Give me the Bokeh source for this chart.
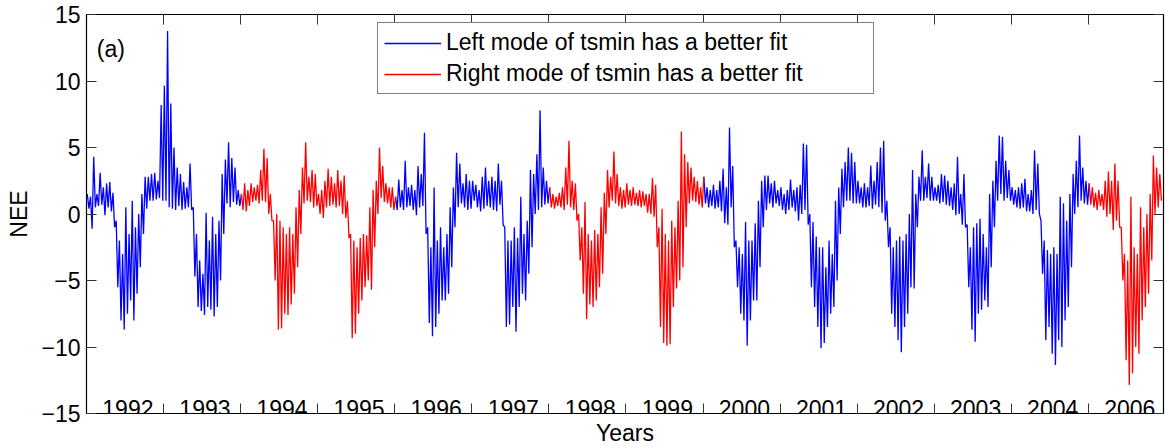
from bokeh.plotting import figure
from bokeh.models import FixedTicker, LinearAxis, Legend, LegendItem, Range1d
from bokeh.core.properties import value
from bokeh.embed import file_html
from bokeh.resources import INLINE

# Station years on the time axis (2005 is absent from the record)
years = [1992, 1993, 1994, 1995, 1996, 1997, 1998, 1999, 2000, 2001, 2002, 2003, 2004, 2006]
# Which mode of tsmin fits better in each year
better_mode = ["left", "left", "right", "right", "left", "left", "right", "right",
               "left", "left", "left", "left", "left", "right"]

# NEE extremes per half-month window (upper / lower), 24 windows a year
nee_hi_1992 = [1.5, 1.3, 4.3, 1.5, 3.1, 2.0, 2.3, 2.4, 1.6, -0.5, -2.0, -3.0, 0.5, -1.5, 1.0, -1.0, 0.0, 1.5, 2.8, 2.8, 3.0, 3.1, 2.5, 8.2]
nee_lo_1992 = [0.4, -1.1, 0.5, 0.6, 0.7, -0.1, 0.5, 0.2, -1.0, -5.5, -8.0, -8.7, -7.5, -6.5, -8.0, -6.0, -4.0, -1.5, 0.4, 1.0, 1.0, 1.1, 1.2, 1.0]
nee_hi_1993 = [9.65, 13.76, 8.3, 5.0, 3.5, 3.0, 2.4, 2.0, 3.8, 0.5, -1.5, -3.5, -4.5, 0.1, -2.0, -0.2, -1.5, -0.5, 3.0, 4.1, 5.4, 4.2, 3.5, 1.8]
nee_lo_1993 = [1.0, 0.5, 0.4, 0.3, 0.6, 0.3, 0.4, 0.5, 0.3, -4.7, -7.0, -7.3, -7.6, -7.0, -7.2, -7.7, -7.0, -5.0, -1.5, 0.8, 0.5, 0.9, 0.7, 0.6]
nee_hi_1994 = [1.5, 2.3, 1.8, 2.3, 2.0, 2.2, 3.3, 4.9, 4.2, 1.5, -0.5, 0.0, -0.5, -1.0, -1.5, -1.0, -1.5, 0.5, 1.8, 3.5, 5.4, 2.8, 3.3, 3.0]
nee_lo_1994 = [0.3, 0.2, 0.6, 0.9, 1.0, 0.8, 1.0, 0.9, 0.0, -0.5, -5.0, -8.7, -8.6, -7.5, -7.6, -6.8, -6.0, -4.0, -1.5, 0.8, 1.0, 0.9, 0.5, 0.6]
nee_hi_1995 = [1.5, 1.8, 2.5, 3.4, 2.8, 2.3, 3.3, 2.5, 2.9, 1.0, -1.5, -2.0, -2.5, -1.8, -1.5, -1.6, 0.5, 1.8, 2.5, 5.0, 3.6, 2.3, 2.0, 2.0]
nee_lo_1995 = [0.0, -0.3, 0.5, 0.6, 0.7, 0.5, 0.6, 0.0, -0.3, -1.8, -9.35, -9.0, -7.5, -6.5, -5.5, -5.0, -5.7, -2.5, 0.0, 1.2, 0.9, 0.8, 0.5, 0.3]
nee_hi_1996 = [1.3, 2.6, 1.8, 4.0, 2.0, 2.2, 1.8, 3.6, 3.0, 6.1, -1.0, -2.5, 2.0, -2.0, -1.0, -2.5, -1.5, 0.5, 2.0, 4.6, 3.8, 2.3, 3.0, 2.5]
nee_lo_1996 = [0.3, 0.5, 0.3, 0.5, 0.6, 0.3, -0.1, 0.5, 0.6, -1.5, -8.2, -9.2, -8.5, -7.5, -6.5, -6.5, -6.0, -4.0, -1.0, 0.5, 0.8, 0.5, 0.3, 0.4]
nee_hi_1997 = [2.5, 2.2, 1.8, 2.8, 3.5, 2.5, 2.8, 2.5, 3.8, 2.5, -1.0, -2.0, -2.0, -1.0, -1.8, 1.3, -1.5, -0.5, 3.3, 3.0, 4.5, 7.8, 3.5, 2.5]
nee_lo_1997 = [1.0, 0.5, 0.2, 0.4, 0.6, 0.5, 0.3, 0.2, 0.7, -0.8, -8.5, -8.3, -7.0, -8.85, -7.0, -6.0, -6.5, -4.5, -2.5, 0.0, 0.3, 0.5, 0.7, 0.8]
nee_hi_1998 = [2.0, 1.5, 1.3, 1.6, 2.0, 3.5, 5.5, 2.5, 2.3, 0.0, -1.0, 0.9, -1.5, -2.0, -1.2, -1.5, 0.5, 1.6, 3.3, 2.8, 4.7, 3.0, 2.0, 1.8]
nee_lo_1998 = [0.5, 0.4, 0.6, 0.5, 0.3, 0.7, 0.5, 0.3, -0.5, -3.5, -6.0, -7.9, -6.8, -7.0, -6.5, -5.5, -4.5, -1.5, 0.5, 1.0, 0.8, 0.6, 0.4, 0.5]
nee_hi_1999 = [2.3, 1.8, 2.0, 1.6, 1.8, 1.7, 1.5, 1.5, 2.7, 2.2, -1.0, 0.4, -1.5, -2.0, -0.5, -1.0, 1.0, 6.2, 4.5, 3.9, 3.5, 2.8, 2.5, 2.0]
nee_lo_1999 = [0.7, 0.6, 0.7, 0.6, 0.5, 0.6, 0.1, 0.0, -0.2, -2.5, -8.5, -9.7, -9.9, -9.8, -7.0, -5.6, -5.0, -4.0, -1.0, 0.8, 1.0, 0.9, 0.7, 0.5]
nee_hi_2000 = [2.8, 2.0, 1.8, 2.2, 1.8, 2.5, 3.4, 2.0, 6.5, 3.6, -2.0, -2.5, -3.0, -0.6, -2.0, -2.0, -0.7, 1.0, 2.5, 2.9, 2.9, 2.3, 2.5, 1.8]
nee_lo_2000 = [0.8, 0.5, 0.6, 0.4, 0.5, 0.2, -0.7, -0.8, 0.5, -2.5, -5.5, -7.5, -8.0, -9.9, -8.0, -6.5, -6.5, -4.0, -1.0, 0.3, 0.8, 0.5, 0.8, 0.6]
nee_hi_2001 = [2.0, 1.5, 1.8, 2.6, 1.8, 2.0, 2.2, 5.3, 5.2, 0.0, -0.6, -1.7, -2.5, -2.5, -4.0, -2.0, -3.0, 1.0, 2.0, 3.4, 3.9, 5.0, 4.6, 3.9]
nee_lo_2001 = [0.3, 0.0, 0.3, 0.5, 0.2, -0.5, 0.0, 0.3, -0.8, -5.5, -7.0, -8.5, -10.1, -9.7, -8.5, -7.5, -7.0, -5.0, -1.5, 0.5, 1.0, 1.0, 0.8, 0.8]
nee_hi_2002 = [2.5, 2.0, 2.3, 2.0, 3.65, 2.5, 3.9, 5.0, 5.5, 1.0, -1.0, -2.5, -2.0, -1.7, -2.0, -1.5, 0.0, 3.3, 1.5, 2.8, 4.8, 2.8, 3.8, 2.8]
nee_lo_2002 = [0.8, 0.5, 0.5, 0.6, 0.4, 0.7, 0.5, 0.1, -0.5, -2.5, -7.5, -8.5, -9.5, -10.4, -8.5, -7.5, -5.5, -5.6, -1.0, 1.0, 1.0, 1.2, 1.0, 1.0]
nee_hi_2003 = [2.0, 2.2, 3.0, 2.9, 2.5, 2.0, 2.3, 4.3, 1.5, 3.0, -0.8, -2.5, -1.0, -0.7, -0.35, -1.5, -2.5, 1.5, 2.5, 4.0, 5.9, 5.8, 4.0, 3.3]
nee_lo_2003 = [1.0, 0.8, 0.9, 0.7, 0.6, 0.3, -0.1, 0.0, -0.8, -1.0, -5.5, -8.7, -9.6, -7.5, -7.2, -6.5, -7.0, -4.0, -1.0, 1.0, 1.5, 1.0, 1.2, 1.0]
nee_hi_2004 = [2.0, 1.8, 2.0, 2.3, 2.65, 1.5, 1.8, 4.8, 3.8, -0.5, -2.0, -2.7, -3.0, -2.5, -3.0, 1.3, 0.8, -0.5, 1.5, 3.0, 4.0, 5.9, 3.5, 2.5]
nee_lo_2004 = [0.7, 0.5, 0.4, 0.5, 0.2, 0.2, 0.0, 0.3, 0.0, -4.5, -9.5, -8.5, -10.5, -11.35, -9.5, -10.0, -8.0, -7.0, -4.0, 0.0, 0.5, 1.0, 0.8, 0.7]
nee_hi_2006 = [2.3, 2.0, 1.6, 1.8, 1.5, 2.5, 3.2, 2.5, 3.8, 2.5, -1.0, -3.0, -3.5, 1.3, -2.5, -3.0, 0.5, -1.0, 0.0, 1.5, 4.4, 3.5, 3.0]
nee_lo_2006 = [0.7, 0.5, 0.3, 0.6, 0.3, -0.2, 0.0, -1.2, -0.5, -1.0, -5.0, -11.0, -12.85, -12.0, -10.0, -10.5, -8.0, -7.0, -6.0, -3.5, 0.0, 0.5, 1.0]

nee_hi = [nee_hi_1992, nee_hi_1993, nee_hi_1994, nee_hi_1995, nee_hi_1996, nee_hi_1997, nee_hi_1998,
          nee_hi_1999, nee_hi_2000, nee_hi_2001, nee_hi_2002, nee_hi_2003, nee_hi_2004, nee_hi_2006]
nee_lo = [nee_lo_1992, nee_lo_1993, nee_lo_1994, nee_lo_1995, nee_lo_1996, nee_lo_1997, nee_lo_1998,
          nee_lo_1999, nee_lo_2000, nee_lo_2001, nee_lo_2002, nee_lo_2003, nee_lo_2004, nee_lo_2006]

DAYS = 365
WINDOW = DAYS / 24.0
FONT = "Liberation Sans"
COLORS = {"left": "#0000ff", "right": "#ff0000"}

# Day-indexed trace for each year, swinging between the upper and lower
# extreme of every window
year_pts = []
for k, (hi, lo) in enumerate(zip(nee_hi, nee_lo)):
    xs, ys = [], []
    for i, (h, l) in enumerate(zip(hi, lo)):
        t0 = k * DAYS + i * WINDOW
        xs += [t0 + 0.25 * WINDOW, t0 + 0.75 * WINDOW]
        ys += [h, l]
    year_pts.append((xs, ys))

# Split into runs of consecutive years sharing the same better-fitting mode
runs = {"left": ([], []), "right": ([], [])}
k = 0
while k < len(years):
    mode = better_mode[k]
    rx, ry = [], []
    while k < len(years) and better_mode[k] == mode:
        rx += year_pts[k][0]
        ry += year_pts[k][1]
        k += 1
    if k < len(years):
        rx.append(year_pts[k][0][0])
        ry.append(year_pts[k][1][0])
    runs[mode][0].append(rx)
    runs[mode][1].append(ry)

x_end = (len(years) - 1) * DAYS + 23.4 * WINDOW

p = figure(width=1165, height=448, x_range=Range1d(0, x_end), y_range=Range1d(-15, 15),
           output_backend="svg", toolbar_location=None,
           x_axis_location=None, y_axis_location=None)
p.grid.visible = False
p.outline_line_color = "black"
p.outline_line_width = 1.2
p.min_border_left = 86
p.min_border_right = 2
p.min_border_top = 14
p.min_border_bottom = 34
p.background_fill_color = "white"
p.border_fill_color = "white"

renderers = {}
for mode in ("left", "right"):
    renderers[mode] = p.multi_line(xs=runs[mode][0], ys=runs[mode][1],
                                   line_color=COLORS[mode], line_width=1.3)

year_ticks = [DAYS * k for k in range(1, len(years))]
nee_ticks = [-15, -10, -5, 0, 5, 10, 15]


def style_axis(ax, ticks, labelled):
    ax.ticker = FixedTicker(ticks=ticks)
    ax.major_tick_in = 10
    ax.major_tick_out = 0
    ax.minor_tick_in = 0
    ax.minor_tick_out = 0
    ax.axis_line_color = None
    ax.major_tick_line_color = "#333333"
    ax.major_tick_line_width = 1
    ax.major_label_text_font = FONT
    ax.axis_label_text_font = FONT
    ax.axis_label_text_font_style = "normal"
    ax.axis_label_text_font_size = "23px"
    ax.axis_label_text_color = "black"
    if labelled:
        ax.major_label_text_font_size = "23px"
        ax.major_label_text_color = "black"
    else:
        ax.major_label_text_font_size = "1px"
        ax.major_label_text_color = None
        ax.major_label_standoff = 0
    return ax


left = style_axis(LinearAxis(axis_label="NEE"), nee_ticks, True)
left.major_label_standoff = 6
left.axis_label_standoff = 6
left.major_label_overrides = {-15: "\u221215", -10: "\u221210", -5: "\u22125"}
p.add_layout(left, "left")

p.add_layout(style_axis(LinearAxis(), nee_ticks, False), "right")

bottom = style_axis(LinearAxis(axis_label="Years"), year_ticks, False)
bottom.axis_label_standoff = 6
p.add_layout(bottom, "below")

p.add_layout(style_axis(LinearAxis(), year_ticks, False), "above")

# Year names sit inside the frame, under each yearly cycle
p.text(x=[DAYS * k + 196 for k in range(len(years))], y=[-14.65] * len(years),
       text=[str(y) for y in years], text_align="center", text_baseline="alphabetic",
       text_font=value(FONT), text_font_size=value("23px"), text_color="black")

p.text(x=[49], y=[12.38], text=["(a)"], text_align="left", text_baseline="alphabetic",
       text_font=value(FONT), text_font_size=value("23px"), text_color="black")

legend = Legend(items=[LegendItem(label="Left mode of tsmin has a better fit", renderers=[renderers["left"]]),
                       LegendItem(label="Right mode of tsmin has a better fit", renderers=[renderers["right"]])],
                location=(291, 319))
legend.border_line_color = "black"
legend.border_line_width = 1.3
legend.background_fill_color = "white"
legend.background_fill_alpha = 1.0
legend.label_text_font = FONT
legend.label_text_font_size = "23px"
legend.label_text_color = "black"
legend.padding = 6
legend.spacing = 4
legend.margin = 0
legend.glyph_width = 57
legend.glyph_height = 26
legend.label_height = 26
legend.label_standoff = 5
legend.label_width = 421
p.add_layout(legend)

open("out.html", "w").write(file_html(p, INLINE))
